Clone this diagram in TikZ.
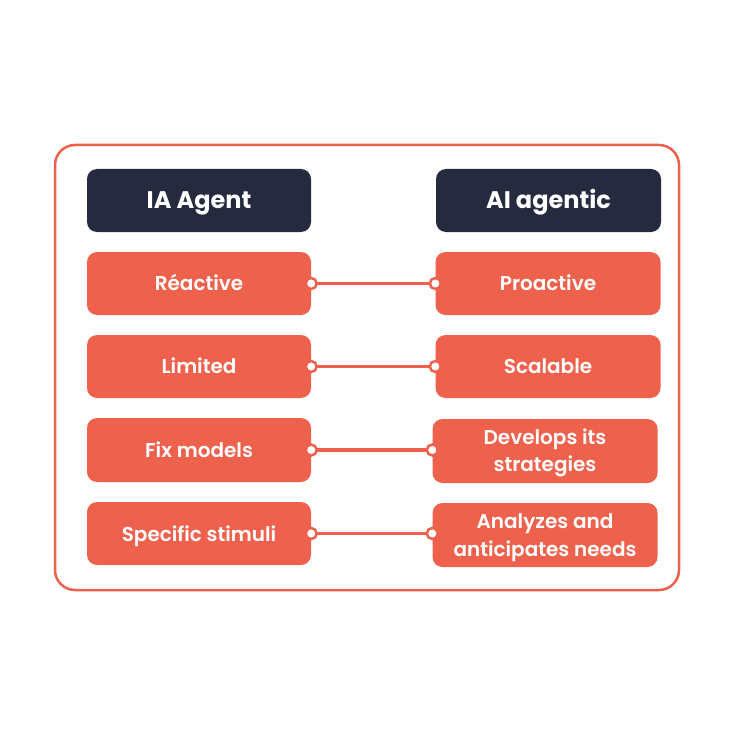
\documentclass[tikz,border=0pt]{standalone}
\usepackage{fontspec}
\setmainfont{Poppins}
\newfontfamily\semib{Poppins}[UprightFont=* SemiBold]
\definecolor{coral}{HTML}{EE614C}
\definecolor{navy}{HTML}{252A3E}
\begin{document}
\begin{tikzpicture}[x=1pt,y=-1pt,
  hdrbox/.style={fill=navy,rounded corners=10pt,inner sep=0pt},
  hdrtext/.style={text=white,font=\fontsize{24}{28}\selectfont\bfseries,anchor=base,inner sep=0pt},
  itembox/.style={fill=coral,rounded corners=10pt,inner sep=0pt},
  itemtext/.style={text=white,font=\semib\fontsize{20}{27.5}\selectfont,align=center,anchor=base,inner sep=0pt},
  link/.style={draw=coral,line width=3.5pt},
  dot/.style={circle,draw=coral,fill=white,line width=2.5pt,inner sep=0pt,minimum size=11pt}]
\useasboundingbox (0,0) rectangle (735,735);
\draw[coral,line width=2.5pt,rounded corners=20pt] (55,145) rectangle (679,590);
% headers
\node[hdrbox,minimum width=224pt,minimum height=63pt] (hl) at (199,200.5) {};
\node[hdrbox,minimum width=225pt,minimum height=63pt] (hr) at (548.5,200.5) {};
\node[hdrtext] (hlt) at (199,209) {IA Agent};
\node[hdrtext] (hrt) at (548.5,209) {AI agentic};
% rows left
\node[itembox,minimum width=224pt,minimum height=63pt] (l1) at (199,283.5) {};
\node[itembox,minimum width=224pt,minimum height=63pt] (l2) at (199,366.5) {};
\node[itembox,minimum width=224pt,minimum height=64pt] (l3) at (199,450) {};
\node[itembox,minimum width=224pt,minimum height=63pt] (l4) at (199,533.5) {};
% rows right
\node[itembox,minimum width=225pt,minimum height=63pt] (r1) at (548,283.5) {};
\node[itembox,minimum width=225pt,minimum height=63pt] (r2) at (548,366.5) {};
\node[itembox,minimum width=225pt,minimum height=64pt] (r3) at (545,451) {};
\node[itembox,minimum width=225pt,minimum height=64pt] (r4) at (545,535) {};
% texts
\node[itemtext] (l1t) at (199,290.5) {Réactive};
\node[itemtext] (l2t) at (199,373.5) {Limited};
\node[itemtext] (l3t) at (199,457) {Fix models};
\node[itemtext] (l4t) at (199,541) {Specific stimuli};
\node[itemtext] (r1t) at (548,290.5) {Proactive};
\node[itemtext] (r2t) at (548,373.5) {Scalable};
\node[itemtext] (r3t) at (545,471.5) {Develops its\\strategies};
\node[itemtext] (r4t) at (545,556) {Analyzes and\\anticipates needs};
% links
\foreach \i in {1,2,3,4}{
  \draw[link] (l\i.east) -- (l\i.east -| r\i.west);
  \node[dot] (ld\i) at (l\i.east) {};
  \node[dot] (rd\i) at (l\i.east -| r\i.west) {};
}
\end{tikzpicture}
\end{document}
